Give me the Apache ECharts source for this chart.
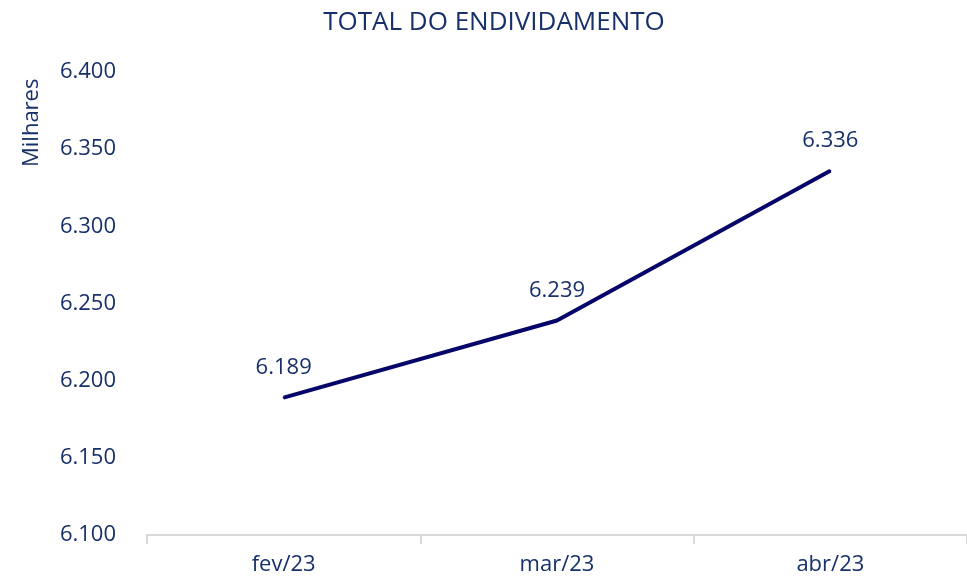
<!DOCTYPE html>
<html><head><meta charset="utf-8">
<script src="https://cdn.jsdelivr.net/npm/echarts@6/dist/echarts.min.js"></script>
<style>html,body{margin:0;padding:0;background:#fff}#c{width:967px;height:582px}</style>
</head><body><div id="c"></div>
<script>
const categories = ['fev/23', 'mar/23', 'abr/23'];
const values = [6189, 6239, 6336];
const yTicks = [6100, 6150, 6200, 6250, 6300, 6350, 6400];
const titleText = 'TOTAL DO ENDIVIDAMENTO';
const unitText = 'Milhares';

const txt = '#17306a';
const fontFamily = '"Open Sans", sans-serif';
const fmt = v => {
  const s = String(Math.round(v));
  return s.replace(/\B(?=(\d{3})+(?!\d))/g, '.');
};
const chart = echarts.init(document.getElementById('c'));
chart.setOption({
  animation: false,
  title: { text: titleText, left: 489, textAlign: 'center', top: 5,
    textStyle: { color: txt, fontSize: 26, fontWeight: 'normal', fontFamily } },
  grid: { left: 147, right: 0, top: 72, bottom: 47, containLabel: false },
  graphic: [{ type: 'text', x: 21, y: 167, rotation: Math.PI / 2,
    style: { text: unitText, fill: txt, font: '22px ' + fontFamily, textAlign: 'left', textVerticalAlign: 'top' } }],
  xAxis: { type: 'category', data: categories, boundaryGap: true,
    axisLine: { lineStyle: { color: '#d9d9d9', width: 2 } },
    axisTick: { show: true, length: 9, lineStyle: { color: '#d9d9d9', width: 2 } },
    axisLabel: { color: txt, fontSize: 22, fontFamily, margin: 19 } },
  yAxis: { type: 'value', min: yTicks[0], max: yTicks[yTicks.length - 1], interval: 50,
    axisLine: { show: false }, axisTick: { show: false }, splitLine: { show: false },
    axisLabel: { color: txt, fontSize: 22, fontFamily, margin: 31, formatter: fmt } },
  series: [{ type: 'line', data: values, showSymbol: true, symbol: 'circle', symbolSize: 2,
    itemStyle: { color: '#06066a' },
    lineStyle: { color: '#06066a', width: 4 },
    label: { show: true, position: 'top', distance: 18, color: txt, fontSize: 22, fontFamily,
      formatter: p => fmt(p.value) } }]
});
</script></body></html>
